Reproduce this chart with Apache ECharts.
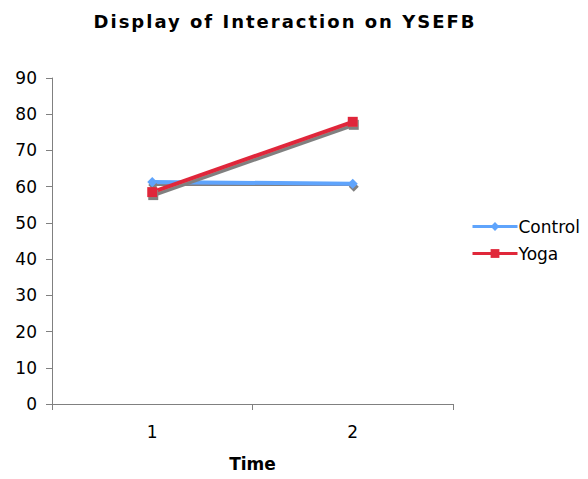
<!DOCTYPE html>
<html><head><meta charset="utf-8">
<script src="https://cdn.jsdelivr.net/npm/echarts@6/dist/echarts.min.js"></script>
<style>html,body{margin:0;padding:0;background:#fff}#c{width:588px;height:479px}
#c text[style*="18px"]{letter-spacing:2px}</style>
</head><body><div id="c"></div>
<script>
const categories = ['1', '2'];
const controlValues = [61.3, 60.8];
const yogaValues = [58.5, 77.9];
const yTicks = { min: 0, max: 90, interval: 10 };

const FONT = 'DejaVu Sans';
const chart = echarts.init(document.getElementById('c'), null, { renderer: 'svg' });
const shadow = { shadowColor: '#808080', shadowOffsetX: 1, shadowOffsetY: 3, shadowBlur: 0 };
chart.setOption({
  animation: false,
  backgroundColor: '#fff',
  title: {
    text: 'Display of Interaction on YSEFB',
    left: 280, top: 7, textAlign: 'center',
    textStyle: { fontFamily: FONT, fontWeight: 'bold', fontSize: 18, color: '#000' }
  },
  grid: { left: 52, right: 135, top: 78, bottom: 75, containLabel: false },
  legend: {
    orient: 'vertical', left: 466, top: 213, itemWidth: 45, itemHeight: 11, itemGap: 10,
    lineStyle: { width: 3 },
    textStyle: { fontFamily: FONT, fontSize: 17, color: '#000', padding: [0, 0, 0, -4] },
    data: ['Control', 'Yoga']
  },
  xAxis: {
    type: 'category', data: categories, boundaryGap: true,
    name: 'Time', nameLocation: 'middle', nameGap: 51,
    nameTextStyle: { fontFamily: FONT, fontWeight: 'bold', fontSize: 17, color: '#000' },
    axisLine: { lineStyle: { color: '#808080', width: 1 } },
    axisTick: { show: true, length: 6, inside: false, lineStyle: { color: '#808080' } },
    axisLabel: { fontFamily: FONT, fontSize: 17, color: '#000', margin: 19 },
    splitLine: { show: false }
  },
  yAxis: {
    type: 'value', min: yTicks.min, max: yTicks.max, interval: yTicks.interval,
    axisLine: { show: true, lineStyle: { color: '#808080', width: 1 } },
    axisTick: { show: true, length: 6, lineStyle: { color: '#808080' } },
    axisLabel: { fontFamily: FONT, fontSize: 17, color: '#000', margin: 15 },
    splitLine: { show: false }
  },
  series: [
    {
      name: 'Control', type: 'line', data: controlValues,
      symbol: 'diamond', symbolSize: 10, z: 2,
      itemStyle: Object.assign({ color: '#5fa4fc' }, shadow),
      lineStyle: Object.assign({ color: '#5fa4fc', width: 4 }, shadow)
    },
    {
      name: 'Yoga', type: 'line', data: yogaValues,
      symbol: 'rect', symbolSize: 10, z: 3,
      itemStyle: Object.assign({ color: '#e0283a' }, shadow),
      lineStyle: Object.assign({ color: '#e0283a', width: 4 }, shadow)
    }
  ]
});
</script></body></html>
